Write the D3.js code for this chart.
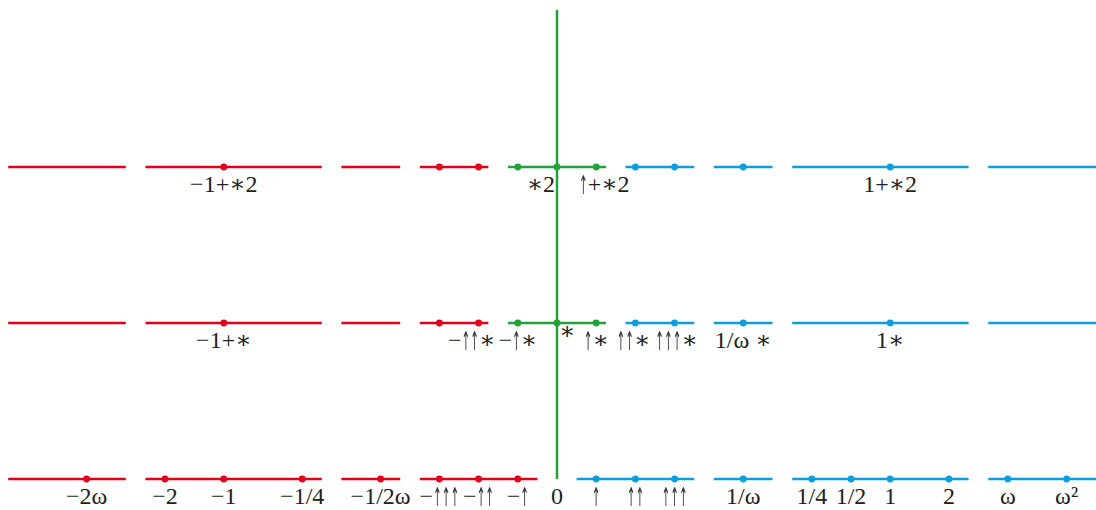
<!DOCTYPE html>
<html>
<head>
<meta charset="utf-8">
<script src="https://cdn.jsdelivr.net/npm/d3@7"></script>
<style>
  html, body { margin: 0; padding: 0; background: #fff; }
  svg { display: block; }
  text { font-family: "Liberation Serif", "DejaVu Serif", serif; fill: #231f20; }
  text.arrow { font-family: "DejaVu Sans", "DejaVu Serif", sans-serif; fill: #2a2a2a; fill-opacity: 0.95; }
</style>
</head>
<body>
<div class="chart"></div>
<script>
// rows of the diagram, top to bottom
const rows = ['top', 'mid', 'bottom'];

// horizontal segments (in "slot" units, 0 = the vertical axis)
const outerSegments = [[-14, -11], [-10.5, -6], [-5.5, -4], [4, 5.5], [6, 10.5], [11, 14]];
const innerSegments = [[-3.5, -1.75], [-1.25, 1.25], [1.75, 3.5]];
const innerSegmentsBottom = [[-3.5, -0.5], [0.5, 3.5]];

// dots on each row
const topDots = [-8.5, -3, -2, -1, 0, 1, 2, 3, 4.75, 8.5];
const midDots = [-8.5, -3, -2, -1, 0, 1, 2, 3, 4.75, 8.5];
const bottomDots = [-12, -10, -8.5, -6.5, -4.5, -3, -2, -1, 1, 2, 3, 4.75, 6.5, 7.5, 8.5, 10, 11.5, 13];

// labels, keyed to the dot they sit under
const topLabels = [[-8.5, '−1+∗2'], [0, '∗2'], [1, '↑+∗2'], [8.5, '1+∗2']];
const midLabels = [[-8.5, '−1+∗'], [-2, '−↑↑∗'], [-1, '−↑∗'], [0, '∗'], [1, '↑∗'], [2, '↑↑∗'],
                   [3, '↑↑↑∗'], [4.75, '1/ω ∗'], [8.5, '1∗']];
const bottomLabels = [[-12, '−2ω'], [-10, '−2'], [-8.5, '−1'], [-6.5, '−1/4'], [-4.5, '−1/2ω'],
                      [-3, '−↑↑↑'], [-2, '−↑↑'], [-1, '−↑'], [0, '0'], [1, '↑'], [2, '↑↑'], [3, '↑↑↑'],
                      [4.75, '1/ω'], [6.5, '1/4'], [7.5, '1/2'], [8.5, '1'], [10, '2'], [11.5, 'ω'], [13, 'ω²']];

const width = 1096, height = 510;
const red = '#e2001a', green = '#22a339', blue = '#0a9edf';

const svg = d3.select('.chart').append('svg')
  .attr('width', width)
  .attr('height', height);

// identity filter: draws the squeezed arrows off-screen so they get plain grey antialiasing
svg.append('defs').append('filter')
  .attr('id', 'flat')
  .attr('x', '-20%').attr('y', '-20%').attr('width', '140%').attr('height', '140%')
  .append('feOffset').attr('dx', 0).attr('dy', 0);

const x = d3.scaleLinear().domain([-14, 14]).range([557 - 14 * 39.2, 557 + 14 * 39.2]);
const y = d3.scalePoint().domain(rows).range([167, 479]);

function segColor(s) {
  let m = (s[0] + s[1]) / 2;
  if (m < -0.5) return red;
  if (m > 0.5) return blue;
  return green;
}

// vertical axis
svg.append('line')
  .attr('x1', x(0)).attr('x2', x(0))
  .attr('y1', 10).attr('y2', y('bottom'))
  .style('stroke', green)
  .style('stroke-width', 2.5);

// writes a label; runs of arrows are squeezed so they look like the narrow math arrows
function drawLabel(g, xPos, yPos, str, anchor, dx, dy) {
  let lg = g.append('g');
  let cursor = 0;
  let sx = 0.4;
  str.split(/(↑+)/).filter(s => s.length).forEach(function (part) {
    if (part[0] === '↑') {
      let t = lg.append('text')
        .attr('class', 'arrow')
        .attr('font-size', 26)
        .attr('y', 2)
        .attr('filter', 'url(#flat)')
        .text(part + '\uFE0E');
      let w = t.node().getComputedTextLength() * sx;
      t.attr('transform', 'translate(' + cursor + ',0) scale(' + sx + ',1)');
      cursor += w;
    } else {
      let t = lg.append('text')
        .attr('x', cursor)
        .attr('font-size', 24)
        .text(part);
      cursor += t.node().getComputedTextLength();
    }
  });
  let off = anchor === 'middle' ? -cursor / 2 : anchor === 'end' ? -cursor : 0;
  lg.attr('transform', 'translate(' + (xPos + off + dx) + ',' + (yPos + dy) + ')');
}

const rowData = [
  { row: 'top', segs: outerSegments.concat(innerSegments), dots: topDots, labels: topLabels },
  { row: 'mid', segs: outerSegments.concat(innerSegments), dots: midDots, labels: midLabels },
  { row: 'bottom', segs: outerSegments.concat(innerSegmentsBottom), dots: bottomDots, labels: bottomLabels }
];

rowData.forEach(function (r) {
  let g = svg.append('g').attr('transform', 'translate(0,' + y(r.row) + ')');

  g.selectAll('line.seg')
    .data(r.segs)
    .enter()
    .append('line')
    .attr('class', 'seg')
    .attr('x1', d => x(d[0]))
    .attr('x2', d => x(d[1]))
    .attr('y1', 0).attr('y2', 0)
    .style('stroke', d => segColor(d))
    .style('stroke-width', 2.5);

  // a dot takes the colour of the segment it sits on
  g.selectAll('circle')
    .data(r.dots)
    .enter()
    .append('circle')
    .attr('cx', d => x(d))
    .attr('cy', 0)
    .attr('r', 3.4)
    .style('fill', d => segColor(r.segs.find(s => d >= s[0] && d <= s[1])));

  r.labels.forEach(function (d) {
    let anchor = 'middle', dx = 0, dy = 0;
    // the few labels that are not centred under their dot
    if (r.row === 'top' && d[1] === '∗2') { anchor = 'end'; dx = -2; }
    if (r.row === 'mid' && d[1] === '∗') { anchor = 'start'; dx = 2; dy = -9; }
    if (d[1] === '↑+∗2') dx = 8;
    if (d[1] === '−↑↑∗') dx = -7;
    if (d[1] === '↑↑∗') dx = -2;
    if (d[1] === '↑↑↑∗') dx = 2;
    drawLabel(g, x(d[0]), 25, d[1], anchor, dx, dy);
  });
});
</script>
</body>
</html>
